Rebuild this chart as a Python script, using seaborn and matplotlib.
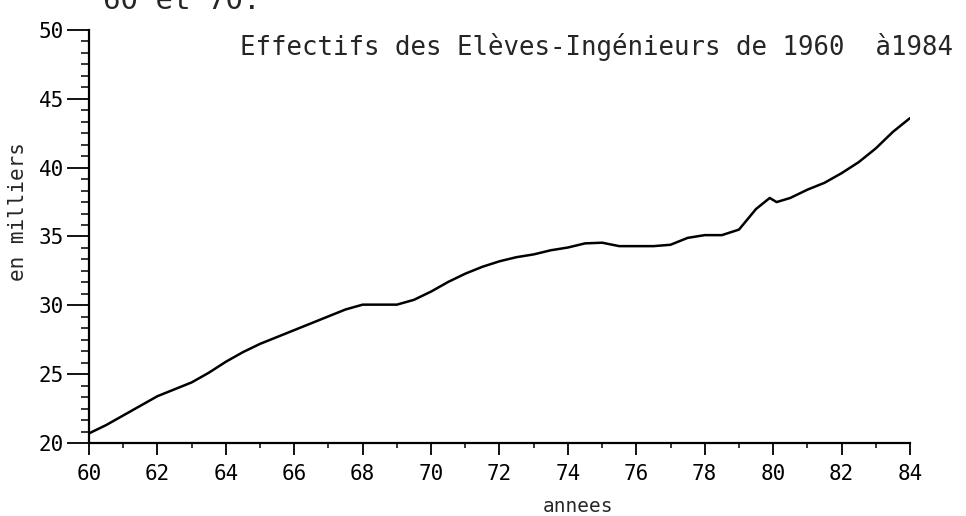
import matplotlib.pyplot as plt
import numpy as np
import pandas as pd
import seaborn as sns

# readings, half-year steps (effectifs en milliers)
years = [60.0, 60.5, 61.0, 61.5, 62.0, 62.5, 63.0, 63.5, 64.0, 64.5,
         65.0, 65.5, 66.0, 66.5, 67.0, 67.5, 68.0, 68.5, 69.0, 69.5,
         70.0, 70.5, 71.0, 71.5, 72.0, 72.5, 73.0, 73.5, 74.0, 74.5,
         75.0, 75.5, 76.0, 76.5, 77.0, 77.5, 78.0, 78.5, 79.0, 79.5,
         79.9, 80.1, 80.5, 81.0, 81.5, 82.0, 82.5, 83.0, 83.5, 84.0]
effectifs = [20.7, 21.3, 22.0, 22.7, 23.4, 23.9, 24.4, 25.1, 25.9, 26.6,
             27.2, 27.7, 28.2, 28.7, 29.2, 29.7, 30.05, 30.05, 30.05, 30.4,
             31.0, 31.7, 32.3, 32.8, 33.2, 33.5, 33.7, 34.0, 34.2, 34.5,
             34.55, 34.3, 34.3, 34.3, 34.4, 34.9, 35.1, 35.1, 35.5, 37.0,
             37.8, 37.5, 37.8, 38.4, 38.9, 39.6, 40.4, 41.4, 42.6, 43.6]

x_major = list(range(60, 85, 2))
x_minor = list(range(61, 84, 2))
y_major = list(range(20, 51, 5))

TITLE = "Effectifs des Elèves-Ingénieurs de 1960  à1984"
TOP_FRAGMENT = "60 et 70."
MONO = ["DejaVu Sans Mono", "DejaVu Sans"]

sns.set_style("ticks")
plt.rcParams["font.family"] = MONO

W, H = 966, 516
PX = 72 / 100  # points per pixel at dpi 100
fig = plt.figure(figsize=(W / 100, H / 100), dpi=100)
ax = fig.add_axes([89 / W, 1 - 443 / H, 821 / W, 413 / H])

df = pd.DataFrame({"annee": years, "effectif": effectifs})
sns.lineplot(data=df, x="annee", y="effectif", color="black",
             linewidth=1.8, ax=ax)

ax.set_xlim(60, 84)
ax.set_ylim(20, 50)
sns.despine(ax=ax)
for side in ("left", "bottom"):
    ax.spines[side].set_linewidth(1.6)
    ax.spines[side].set_color("black")

ax.set_xticks(x_major)
ax.set_xticks(x_minor, minor=True)
ax.set_yticks(y_major)
ax.set_yticks(np.arange(20, 50, 5 / 6), minor=True)
ax.tick_params(axis="x", which="major", length=12 * PX, width=1.3,
               pad=9 * PX, labelsize=15, colors="black")
ax.tick_params(axis="x", which="minor", length=5 * PX, width=1.3)
ax.tick_params(axis="y", which="major", length=22 * PX, width=1.3,
               pad=3 * PX, labelsize=15, colors="black")
ax.tick_params(axis="y", which="minor", length=8 * PX, width=1.3)

ax.set_xlabel("")
ax.set_ylabel("")
fig.text(578 / W, 1 - 507 / H, "annees", ha="center", va="center",
         fontsize=14, family=MONO)
fig.text(18 / W, 1 - 212 / H, "en milliers", ha="center", va="center",
         rotation=90, fontsize=15, family=MONO)
fig.text(240 / W, 1 - 55 / H, TITLE, ha="left", va="baseline",
         fontsize=18.5, family=MONO)
fig.text(103 / W, 1 - 9 / H, TOP_FRAGMENT, ha="left", va="baseline",
         fontsize=21, family=MONO)

fig.savefig("out.png", dpi=100)
